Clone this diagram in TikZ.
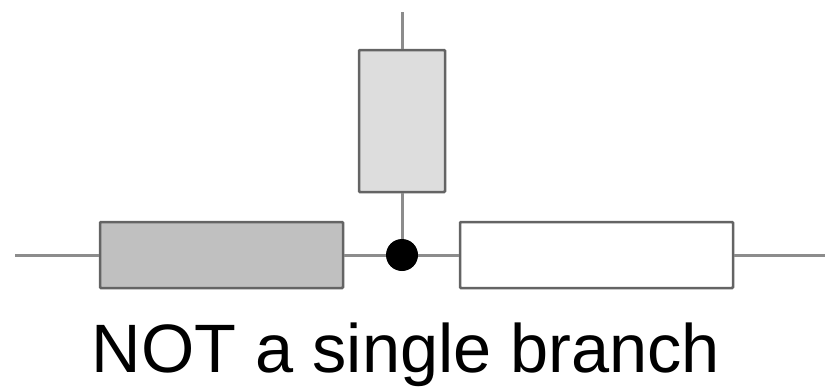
\documentclass[tikz,border=0pt]{standalone}
\usepackage{fontspec}
\setmainfont{Liberation Sans}
\definecolor{wire}{RGB}{140,140,140}
\definecolor{edge}{RGB}{100,100,100}
\definecolor{darkfill}{RGB}{192,192,192}
\definecolor{lightfill}{RGB}{221,221,221}
\begin{document}
\begin{tikzpicture}[x=1pt,y=-1pt,
  wireline/.style={draw=wire,line width=3pt},
  res/.style={draw=edge,line width=2.5pt,rounded corners=1pt}]
\useasboundingbox (0,0) rectangle (825,388);
\coordinate (L) at (15,255);
\coordinate (R) at (825,255);
\coordinate (T) at (402,12);
\node[res,fill=darkfill,minimum width=243pt,minimum height=66pt,inner sep=0pt] (A) at (221.5,255) {};
\node[res,fill=white,minimum width=273pt,minimum height=66pt,inner sep=0pt] (B) at (596.5,255) {};
\node[res,fill=lightfill,minimum width=86pt,minimum height=142pt,inner sep=0pt] (C) at (402,121) {};
\node[circle,fill=black,minimum size=32pt,inner sep=0pt] (J) at (402,255) {};
\draw[wireline] (L) -- (A.west);
\draw[wireline] (A.east) -- (J);
\draw[wireline] (J) -- (B.west);
\draw[wireline] (B.east) -- (R);
\draw[wireline] (T) -- (C.north);
\draw[wireline] (C.south) -- (J);
\node[font=\fontsize{68.5}{72}\selectfont,anchor=base,inner sep=0pt] (txt) at (406,372) {NOT a single branch};
\end{tikzpicture}
\end{document}
